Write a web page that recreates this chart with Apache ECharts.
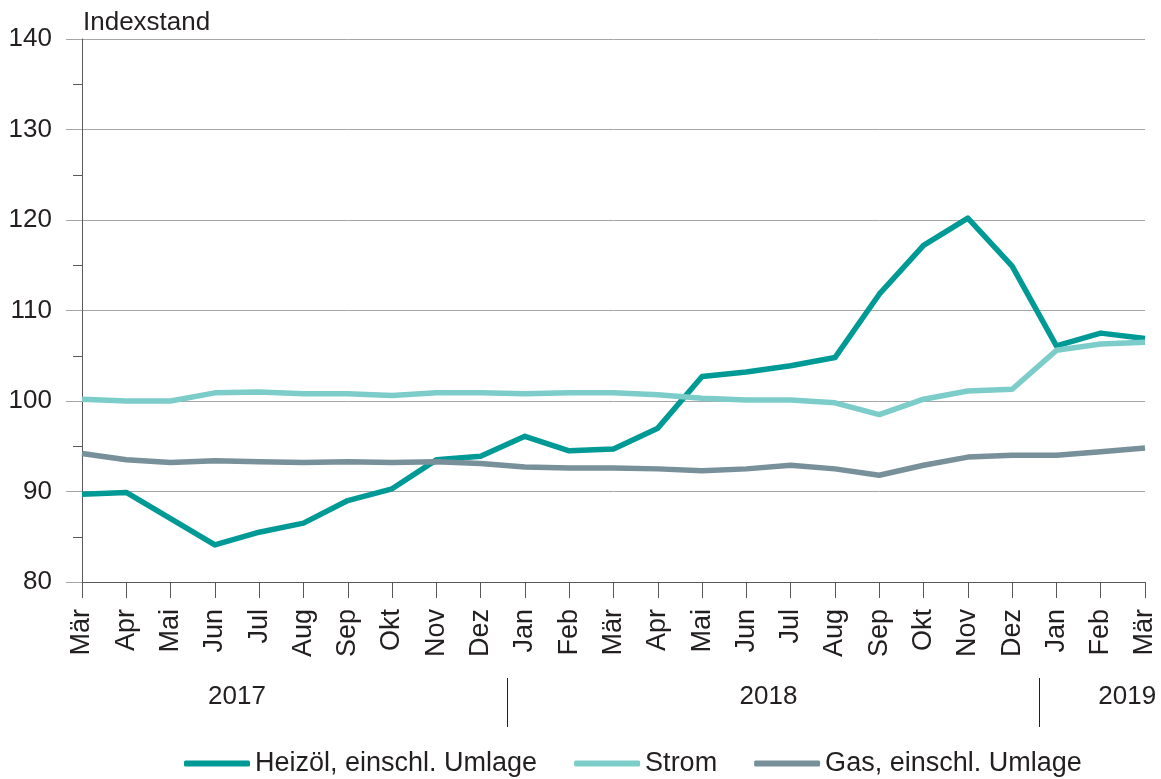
<!DOCTYPE html>
<html>
<head>
<meta charset="utf-8">
<script src="https://cdn.jsdelivr.net/npm/echarts@6/dist/echarts.min.js"></script>
<style>
  html, body { margin: 0; padding: 0; background: #fff; }
  #main { width: 1161px; height: 779px; }
</style>
</head>
<body>
<div id="main"></div>
<script>
// Monate Mär 2017 bis Mär 2019
const months = ['Mär', 'Apr', 'Mai', 'Jun', 'Jul', 'Aug', 'Sep', 'Okt', 'Nov', 'Dez',
  'Jan', 'Feb', 'Mär', 'Apr', 'Mai', 'Jun', 'Jul', 'Aug', 'Sep', 'Okt', 'Nov', 'Dez',
  'Jan', 'Feb', 'Mär'];

// Jahresbeschriftung: Position (Kategorie-Index) und Trennlinien
const years = ['2017', '2018', '2019'];
const yearCenters = [3.5, 15.5, 23.6];
const yearSeparators = [9.6, 21.6];

const heizoel = [89.7, 89.9, 87.0, 84.1, 85.5, 86.5, 89.0, 90.3, 93.5, 93.9,
  96.1, 94.5, 94.7, 97.0, 102.7, 103.2, 103.9, 104.8, 111.8, 117.2, 120.2, 114.9,
  106.1, 107.5, 106.9];
const strom = [100.2, 100.0, 100.0, 100.9, 101.0, 100.8, 100.8, 100.6, 100.9, 100.9,
  100.8, 100.9, 100.9, 100.7, 100.3, 100.1, 100.1, 99.8, 98.5, 100.2, 101.1, 101.3,
  105.6, 106.3, 106.5];
const gas = [94.2, 93.5, 93.2, 93.4, 93.3, 93.2, 93.3, 93.2, 93.3, 93.1,
  92.7, 92.6, 92.6, 92.5, 92.3, 92.5, 92.9, 92.5, 91.8, 92.9, 93.8, 94.0,
  94.0, 94.4, 94.8];

const FONT = 'Liberation Sans, Arial, sans-serif';
const TXT = '#231f20';

var myChart = echarts.init(document.getElementById('main'));

function lineSeries(name, data, color) {
  return {
    name: name,
    type: 'line',
    data: data,
    showSymbol: false,
    symbol: 'none',
    lineStyle: { color: color, width: 5.5, join: 'round' },
    itemStyle: { color: color },
    animation: false
  };
}

const option = {
  animation: false,
  title: {
    text: 'Indexstand',
    left: 78,
    top: 5,
    textStyle: { fontFamily: FONT, fontSize: 26, fontWeight: 'normal', color: TXT }
  },
  grid: { left: 82, right: 16, top: 39, bottom: 197, containLabel: false },
  legend: {
    bottom: -3,
    left: 179,
    icon: 'roundRect',
    itemWidth: 66,
    itemHeight: 6,
    itemGap: 37,
    textStyle: { fontFamily: FONT, fontSize: 27, color: TXT, padding: [0, 0, 0, 0] },
    data: ['Heizöl, einschl. Umlage', 'Strom', 'Gas, einschl. Umlage']
  },
  xAxis: {
    type: 'category',
    data: months,
    boundaryGap: false,
    axisLine: { lineStyle: { color: '#595959', width: 1 } },
    axisTick: { show: true, length: 16, lineStyle: { color: '#595959' } },
    axisLabel: {
      rotate: 90,
      margin: 27,
      interval: 0,
      fontFamily: FONT,
      fontSize: 27,
      color: TXT
    },
    splitLine: { show: false }
  },
  yAxis: {
    type: 'value',
    min: 80,
    max: 140,
    interval: 10,
    axisLine: { show: true, lineStyle: { color: '#595959', width: 1 } },
    axisTick: { show: true, length: 16, lineStyle: { color: '#a6a6a6' } },
    minorTick: { show: true, splitNumber: 2, length: 9, lineStyle: { color: '#595959' } },
    axisLabel: { margin: 30, fontFamily: FONT, fontSize: 26, color: TXT },
    splitLine: { show: true, lineStyle: { color: '#a6a6a6', width: 1 } }
  },
  series: [
    lineSeries('Heizöl, einschl. Umlage', heizoel, '#009a96'),
    lineSeries('Strom', strom, '#7ccdc9'),
    lineSeries('Gas, einschl. Umlage', gas, '#78909a')
  ]
};

myChart.setOption(option);

// Jahreszeile unter der Achse, Positionen aus der Achsenskala
function catX(idx) {
  const lo = Math.floor(idx), hi = Math.ceil(idx);
  const a = myChart.convertToPixel({ xAxisIndex: 0 }, lo);
  const b = myChart.convertToPixel({ xAxisIndex: 0 }, hi);
  return a + (b - a) * (idx - lo);
}

const graphics = [];
years.forEach((y, i) => {
  graphics.push({
    type: 'text',
    x: catX(yearCenters[i]),
    y: 697,
    style: {
      text: y,
      fontFamily: FONT,
      fontSize: 26,
      fill: TXT,
      align: 'center',
      verticalAlign: 'middle'
    }
  });
});
yearSeparators.forEach(s => {
  const x = Math.round(catX(s)) + 0.5;
  graphics.push({
    type: 'line',
    shape: { x1: x, y1: 678, x2: x, y2: 727 },
    style: { stroke: '#231f20', lineWidth: 1 }
  });
});
myChart.setOption({ graphic: graphics });
</script>
</body>
</html>
